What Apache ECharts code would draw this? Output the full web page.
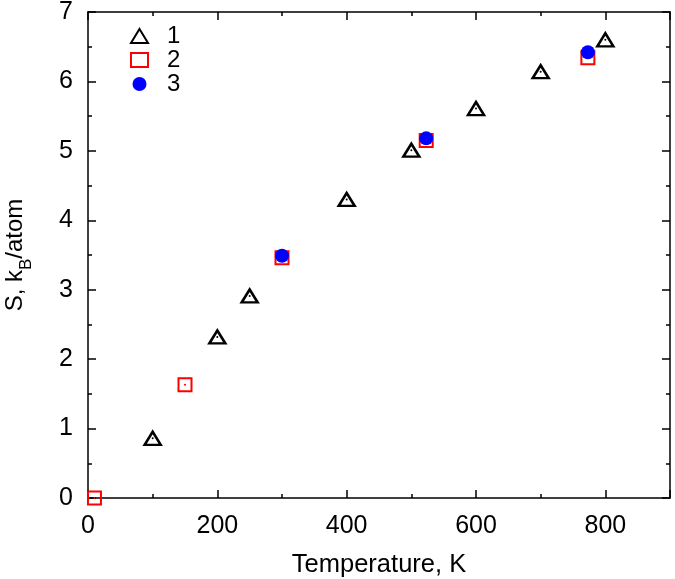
<!DOCTYPE html>
<html>
<head>
<meta charset="utf-8">
<script src="https://cdn.jsdelivr.net/npm/echarts@6/dist/echarts.min.js"></script>
<style>html,body{margin:0;padding:0;background:#fff}#c{width:675px;height:579px}</style>
</head>
<body>
<div id="c"></div>
<script>
const xTicks = [0, 200, 400, 600, 800];
const s1x = [100, 200, 250, 400, 500, 600, 700, 800];
const s1y = [0.86, 2.32, 2.91, 4.30, 5.01, 5.61, 6.14, 6.60];
const s2x = [10, 150, 300, 523, 773];
const s2y = [0.0, 1.63, 3.46, 5.15, 6.34];
const s3x = [300, 523, 773];
const s3y = [3.49, 5.18, 6.42];
const seriesNames = ['1', '2', '3'];

const zip = (xs, ys) => xs.map((x, i) => [x, ys[i]]);
const font = 'Liberation Sans, Arial, sans-serif';
const fs = 25;

const chart = echarts.init(document.getElementById('c'), null, {renderer: 'canvas'});
const axisCommon = {
  axisLine: {show: true, onZero: false, lineStyle: {color: '#000', width: 1.5}},
  axisTick: {show: true, inside: true, length: 8, lineStyle: {color: '#000', width: 1.5}},
  minorTick: {show: true, splitNumber: 2, length: 4, lineStyle: {color: '#000', width: 1.5}},
  splitLine: {show: false}
};
chart.setOption({
  animation: false,
  backgroundColor: '#fff',
  grid: {left: 88, right: 5, top: 12, bottom: 81, containLabel: false, outerBoundsMode: 'none'},
  legend: {
    orient: 'vertical', left: 125, top: 19, itemGap: 0,
    itemWidth: 17, itemHeight: 14,
    data: seriesNames,
    textStyle: {fontFamily: font, fontSize: 24, color: '#000', padding: [0, 0, 0, 14]}
  },
  xAxis: [
    Object.assign({}, axisCommon, {
      type: 'value', min: 0, max: 900, interval: 200, position: 'bottom',
      name: 'Temperature, K', nameLocation: 'middle', nameGap: 54,
      nameTextStyle: {fontFamily: font, fontSize: 25.5, color: '#000'},
      axisLabel: {margin: 16, fontFamily: font, fontSize: fs, color: '#000',
        formatter: v => xTicks.includes(v) ? String(v) : ''}
    }),
    Object.assign({}, axisCommon, {
      type: 'value', min: 0, max: 900, interval: 200, position: 'top',
      axisLabel: {show: false}
    })
  ],
  yAxis: [
    Object.assign({}, axisCommon, {
      type: 'value', min: 0, max: 7, interval: 1, position: 'left',
      name: 'S, k{sub|B}/atom', nameLocation: 'middle', nameRotate: 90, nameGap: 61,
      nameTextStyle: {fontFamily: font, fontSize: 24, color: '#000',
        rich: {sub: {fontFamily: font, fontSize: 17, color: '#000', verticalAlign: 'bottom', padding: [0, 0, -8, 0]}}},
      axisLabel: {margin: 15, fontFamily: font, fontSize: fs, color: '#000'}
    }),
    Object.assign({}, axisCommon, {
      type: 'value', min: 0, max: 7, interval: 1, position: 'right',
      axisLabel: {show: false}
    })
  ],
  series: [
    {name: '1', type: 'scatter', symbol: 'triangle', symbolSize: [16, 13],
     itemStyle: {color: '#fff', borderColor: '#000', borderWidth: 2.5, opacity: 1},
     data: zip(s1x, s1y), z: 3},
    {name: '2', type: 'scatter', symbol: 'rect', symbolSize: 13,
     itemStyle: {color: 'rgba(255,255,255,0)', borderColor: '#ff0000', borderWidth: 2, opacity: 1},
     data: zip(s2x, s2y), z: 2},
    {name: '1c', type: 'scatter', symbol: 'circle', symbolSize: 2,
     itemStyle: {color: '#000', opacity: 1}, data: zip(s1x, s1y), z: 3},
    {name: '2c', type: 'scatter', symbol: 'circle', symbolSize: 2,
     itemStyle: {color: '#ff0000', opacity: 1}, data: zip(s2x, s2y), z: 2},
    {name: '3', type: 'scatter', symbol: 'circle', symbolSize: 14,
     itemStyle: {color: '#0000ff', opacity: 1},
     data: zip(s3x, s3y), z: 4}
  ]
});
</script>
</body>
</html>
